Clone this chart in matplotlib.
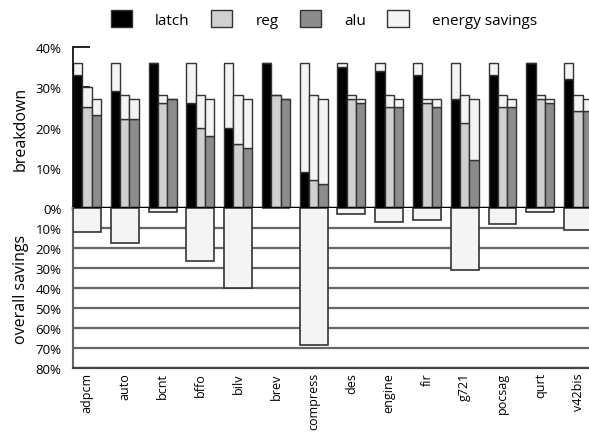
import matplotlib
matplotlib.use("Agg")
import matplotlib.pyplot as plt
from matplotlib.patches import Patch
import numpy as np

plt.rcParams['font.family'] = ['Open Sans', 'DejaVu Sans']

benchmarks = ['adpcm', 'auto', 'bcnt', 'bffo', 'bilv', 'brev', 'compress',
              'des', 'engine', 'fir', 'g721', 'pocsag', 'qurt', 'v42bis']

# breakdown (%) - the remaining part up to the total is energy savings
latch = [33, 29, 36, 26, 20, 36, 9, 35, 34, 33, 27, 33, 36, 32]
latch_total = [36, 36, 36, 36, 36, 36, 36, 36, 36, 36, 36, 36, 36, 36]
reg = [25, 22, 26, 20, 16, 28, 7, 27, 25, 26, 21, 25, 27, 24]
reg_total = [30, 28, 28, 28, 28, 28, 28, 28, 28, 27, 28, 28, 28, 28]
alu = [23, 22, 27, 18, 15, 27, 6, 26, 25, 25, 12, 25, 26, 24]
alu_total = [27, 27, 27, 27, 27, 27, 27, 27, 27, 27, 27, 27, 27, 27]

# overall savings (%)
overall = [11.8, 17.7, 1.8, 26.7, 40, 0, 68.5, 2.8, 6.8, 5.8, 30.8, 7.8, 1.8, 10.8]

c_latch = '#000000'
c_reg = '#d0d0d0'
c_alu = '#8c8c8c'
c_save = '#f4f4f4'
edge = '#333333'

fig = plt.figure(figsize=(5.89, 4.35), dpi=100)
left = 72.7 / 589
width = 14 * 37.8 / 589
ax1 = fig.add_axes([left, 226 / 435, width, 161 / 435])
ax2 = fig.add_axes([left, 66 / 435, width, 160 / 435])

x = np.arange(len(benchmarks))
w = 0.246

ax1.set_axisbelow(True)
for off, vals, tot, col in [(0, latch, latch_total, c_latch),
                            (w, reg, reg_total, c_reg),
                            (2 * w, alu, alu_total, c_alu)]:
    vals = np.array(vals)
    tot = np.array(tot)
    ax1.bar(x + off, vals, w, align='edge', color=col, edgecolor=edge, lw=1)
    ax1.bar(x + off, tot - vals, w, bottom=vals, align='edge',
            color=c_save, edgecolor=edge, lw=1)

ax1.set_xlim(-0.01, 14)
ax1.set_ylim(0, 40)
ax1.set_yticks([0, 10, 20, 30, 40])
ax1.set_yticklabels(['0%', '10%', '20%', '30%', '40%'], fontsize=9.5)
ax1.tick_params(axis='y', direction='in', length=12, width=1.2, pad=8)
ax1.set_xticks([])
for s in ['top', 'right', 'bottom']:
    ax1.spines[s].set_visible(False)
ax1.spines['left'].set_linewidth(1.2)
ax1.axhline(0, color='black', lw=2.5, clip_on=False, zorder=5)
ax1.set_ylabel('breakdown', fontsize=11.5)

# bottom panel: overall savings
ax2.set_axisbelow(True)
ax2.bar(x, overall, 3 * w, align='edge', color=c_save, edgecolor=edge, lw=1.2,
        zorder=3)
ax2.set_xlim(-0.01, 14)
ax2.set_ylim(80, 0)
ax2.set_yticks(list(range(10, 90, 10)))
ax2.set_yticklabels([f'{v}%' for v in range(10, 90, 10)], fontsize=9.5)
ax2.tick_params(axis='y', length=0, pad=8)
ax2.yaxis.grid(True, color='#666666', lw=1.6)
ax2.set_xticks(x + 1.5 * w)
ax2.set_xticklabels(benchmarks, rotation=90, fontsize=9)
ax2.tick_params(axis='x', length=0, pad=3)
for s in ['top', 'right']:
    ax2.spines[s].set_visible(False)
ax2.spines['left'].set_color('#666666')
ax2.spines['left'].set_linewidth(1.5)
ax2.spines['bottom'].set_color('#444444')
ax2.spines['bottom'].set_linewidth(1.6)
ax2.set_ylabel('overall savings', fontsize=11.5)
ax1.yaxis.set_label_coords(-0.083, 0.5)
ax2.yaxis.set_label_coords(-0.083, 0.5)

handles = [Patch(facecolor=c, edgecolor=edge, lw=1) for c in [c_latch, c_reg, c_alu, c_save]]
fig.legend(handles, ['latch', 'reg', 'alu', 'energy savings'], loc='upper left',
           bbox_to_anchor=(100 / 589, 1.0), ncol=4, frameon=False, fontsize=11,
           handlelength=1.4, handleheight=1.4, handletextpad=1.5,
           columnspacing=1.4, borderaxespad=0.3)

fig.savefig('out.png', dpi=100)
